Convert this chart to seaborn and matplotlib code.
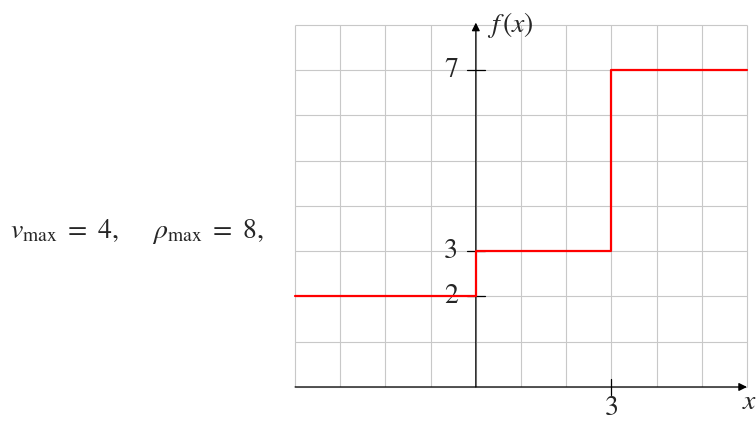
import matplotlib
matplotlib.use("Agg")
import matplotlib.pyplot as plt
import seaborn as sns
import pandas as pd
import numpy as np

sns.set_theme(style="white")
plt.rcParams["font.family"] = ["STIXGeneral", "Liberation Serif", "DejaVu Serif"]
plt.rcParams["mathtext.fontset"] = "stix"

# Piecewise-constant flux: breakpoints and values (steps-post)
x_breaks = [-4, 0, 3, 6]
f_values = [2, 3, 7, 7]
y_ticks = [2, 3, 7]
y_tick_labels = ["2", "3", "7"]
x_ticks = [3]
x_tick_labels = ["3"]
grid_x = list(range(-4, 7))
grid_y = list(range(0, 9))

FS = 20

fig = plt.figure(figsize=(7.56, 4.23), dpi=100)
ax = fig.add_axes([0, 0, 1, 1])

# Background grid limited to the plotting window
ax.vlines(grid_x, 0, 8, colors="#c8c8c8", linewidth=0.8, zorder=1)
ax.hlines(grid_y, -4, 6, colors="#c8c8c8", linewidth=0.8, zorder=1)

# Axes with arrow heads
ax.annotate("", xy=(6.0, 0), xytext=(-4, 0),
            arrowprops=dict(arrowstyle="-|>", color="black", lw=0.9,
                            mutation_scale=12, shrinkA=0, shrinkB=0), zorder=3)
ax.annotate("", xy=(0, 8.05), xytext=(0, 0),
            arrowprops=dict(arrowstyle="-|>", color="black", lw=0.9,
                            mutation_scale=12, shrinkA=0, shrinkB=0), zorder=3)

# Tick marks and labels
for yv, lab in zip(y_ticks, y_tick_labels):
    ax.plot([-0.2, 0.2], [yv, yv], color="black", lw=0.9, zorder=3)
    ax.text(-0.55, yv, lab, ha="center", va="center", fontsize=FS)
for xv, lab in zip(x_ticks, x_tick_labels):
    ax.plot([xv, xv], [-0.17, 0.17], color="black", lw=0.9, zorder=3)
    ax.text(xv, -0.76, lab, ha="center", va="bottom", fontsize=FS)

ax.text(5.88, -0.35, "$x$", ha="left", va="center", fontsize=FS)
ax.text(0.25, 8.0, r"$f\,(x)$", ha="left", va="center", fontsize=FS)

# The step function itself
df = pd.DataFrame({"x": x_breaks, "f": f_values})
sns.lineplot(data=df, x="x", y="f", ax=ax, color="red", linewidth=1.6,
             drawstyle="steps-post", estimator=None, sort=False, zorder=4)

ax.text(-10.3, 3.43, r"$v_{\max}\ =\ 4, \quad\;\; \rho_{\max}\ =\ 8,$",
        ha="left", va="center", fontsize=FS)

ax.set_xlim(-10.53, 6.2)
ax.set_ylim(-0.796, 8.55)
ax.axis("off")

fig.savefig("out.png", dpi=100)
